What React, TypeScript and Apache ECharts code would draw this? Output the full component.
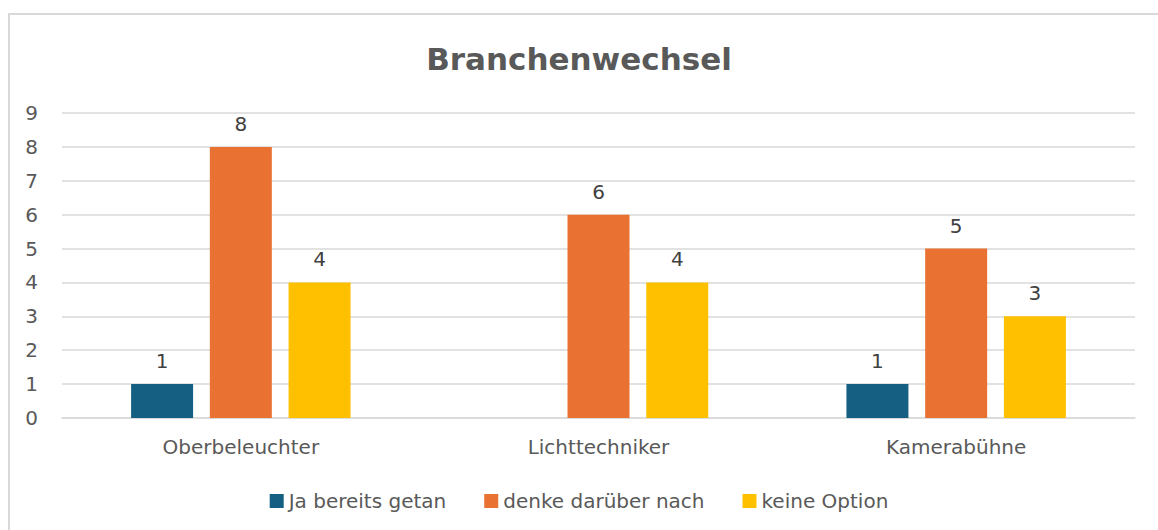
import React, { useEffect, useRef } from "react";
import * as echarts from "echarts";

const categories = ["Oberbeleuchter", "Lichttechniker", "Kamerabühne"];
const seriesNames = ["Ja bereits getan", "denke darüber nach", "keine Option"];
const jaBereits: (number | null)[] = [1, null, 1];
const denkeNach: number[] = [8, 6, 5];
const keineOption: number[] = [4, 4, 3];
const colors = ["#156082", "#E97132", "#FFC000"];

export default function App() {
  const ref = useRef<HTMLDivElement>(null);
  useEffect(() => {
    document.body.style.margin = "0";
    const chart = echarts.init(ref.current!, null, { renderer: "svg" });
    const font = "DejaVu Sans, sans-serif";
    const label = {
      show: true,
      position: "top" as const,
      distance: 13,
      color: "#404040",
      fontSize: 20,
      fontFamily: font,
    };
    const data = [jaBereits, denkeNach, keineOption];
    chart.setOption({
      animation: false,
      backgroundColor: "#ffffff",
      title: {
        text: "Branchenwechsel",
        left: "center",
        top: 38,
        textStyle: { fontSize: 31, fontWeight: "bold", color: "#595959", fontFamily: font },
      },
      legend: {
        bottom: 14,
        left: "center",
        itemWidth: 14,
        itemHeight: 14,
        itemGap: 38,
        icon: "rect",
        textStyle: { fontSize: 20, color: "#595959", fontFamily: font },
      },
      grid: { left: 62, right: 23, top: 113, bottom: 112, containLabel: false },
      xAxis: {
        type: "category",
        data: categories,
        axisLine: { lineStyle: { color: "#D9D9D9", width: 1.5 } },
        axisTick: { show: false },
        axisLabel: { fontSize: 20, color: "#595959", fontFamily: font, margin: 19 },
      },
      yAxis: {
        type: "value",
        min: 0,
        max: 9,
        interval: 1,
        axisLine: { show: false },
        axisTick: { show: false },
        splitLine: { lineStyle: { color: "#D9D9D9", width: 1.5 } },
        axisLabel: { fontSize: 20, color: "#595959", fontFamily: font, margin: 24 },
      },
      series: seriesNames.map((name, i) => ({
        name,
        type: "bar",
        data: data[i],
        barWidth: 62,
        barGap: "27%",
        itemStyle: { color: colors[i] },
        label,
      })),
      graphic: [
        {
          type: "rect",
          shape: { x: 9, y: 14, width: 1160, height: 530 },
          style: { fill: "none", stroke: "#D9D9D9", lineWidth: 2 },
          z: -1,
        },
      ],
    });
    return () => chart.dispose();
  }, []);
  return (
    <div
      ref={ref}
      style={{ position: "absolute", left: 0, top: 0, width: 1158, height: 530 }}
    />
  );
}
